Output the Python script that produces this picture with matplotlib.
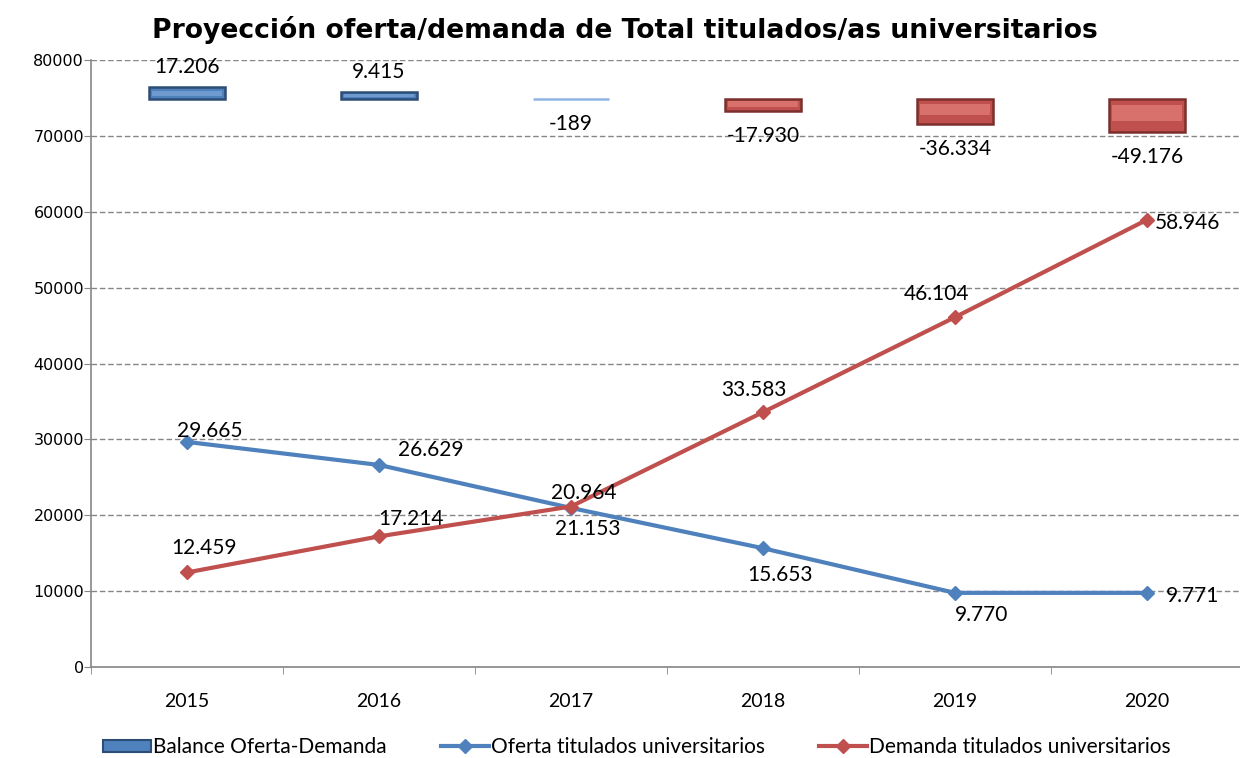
import numpy as np
import matplotlib.pyplot as plt
from matplotlib.lines import Line2D
from matplotlib.patches import Patch

# Datos
years = ['2015', '2016', '2017', '2018', '2019', '2020']
oferta = [29665, 26629, 20964, 15653, 9770, 9771]
demanda = [12459, 17214, 21153, 33583, 46104, 58946]
balance = [17206, 9415, -189, -17930, -36334, -49176]

# Colores
blue = '#4F81BD'
red = '#C0504D'
bar_face = [blue, blue, '#8EB4E3', red, red, red]
bar_edge = ['#2C4D75', '#2C4D75', '#8EB4E3', '#7A2F2D', '#7A2F2D', '#7A2F2D']
bar_light = ['#6F9AD0', '#6F9AD0', '#8EB4E3', '#D8706C', '#D8706C', '#D8706C']

# desplazamientos de etiquetas (pixeles)
off_oferta = [(23, 11), (52, 15), (13, 15), (17, -27), (27, -22), (46, -3)]
off_demanda = [(17, 24), (32, 17), (17, -22), (-9, 22), (-18, 23), (40, -3)]

label_font = 'Lato'


def fmt(v):
    return f'{v:,}'.replace(',', '.')


fig = plt.figure(figsize=(12.4, 7.58), dpi=100)
ax = fig.add_axes([91 / 1240, 1 - 667 / 758, 1152 / 1240, 607 / 758])
x = np.arange(len(years))

# Eje secundario para el balance (barras con efecto bisel)
ax2 = ax.twinx()
ax2.set_ylim(-823900, 55800)
ax2.bar(x, balance, width=0.4, color=bar_face, edgecolor=bar_edge, linewidth=1.8, zorder=2)
inner = [v * 0.45 for v in balance]
base = [v * 0.2 for v in balance]
ax2.bar(x, inner, bottom=base, width=0.36, color=bar_light, linewidth=0, zorder=2.5)
ax2.axis('off')
for i, v in enumerate(balance):
    dy = 20 if v > 0 else -25
    ax2.annotate(fmt(v), (x[i], v), xytext=(0, dy), textcoords='offset pixels',
                 ha='center', va='center', fontsize=15, family=label_font)

# Lineas de oferta y demanda
ax.plot(x, oferta, color=blue, lw=3, marker='D', markersize=7, zorder=3)
ax.plot(x, demanda, color=red, lw=3, marker='D', markersize=7, zorder=3)
for i in range(len(years)):
    ax.annotate(fmt(oferta[i]), (x[i], oferta[i]), xytext=off_oferta[i], textcoords='offset pixels',
                ha='center', va='center', fontsize=15, family=label_font, zorder=4)
    ax.annotate(fmt(demanda[i]), (x[i], demanda[i]), xytext=off_demanda[i], textcoords='offset pixels',
                ha='center', va='center', fontsize=15, family=label_font, zorder=4)

# Ejes
ax.set_xlim(-0.5, 5.5)
ax.set_ylim(0, 80000)
ax.set_yticks(np.arange(0, 80001, 10000))
ax.set_xticks(x)
ax.set_xticklabels(years, family=label_font, fontsize=14)
ax.set_xticks(np.arange(-0.5, 6, 1), minor=True)
ax.tick_params(axis='x', which='major', length=0, pad=19)
ax.tick_params(axis='x', which='minor', length=5, color='#868686', direction='out')
ax.tick_params(axis='y', length=5, color='#868686', labelsize=11.5, pad=0)
ax.grid(axis='y', color='#868686', linestyle=(0, (4, 2)), linewidth=1)
ax.set_axisbelow(True)
for s in ['top', 'right']:
    ax.spines[s].set_visible(False)
for s in ['left', 'bottom']:
    ax.spines[s].set_color('#868686')
    ax.spines[s].set_linewidth(1.2)

fig.text(625 / 1240, 1 - 30 / 758, 'Proyección oferta/demanda de Total titulados/as universitarios',
         ha='center', va='center', fontsize=19.2, fontweight='bold')

handles = [
    Patch(facecolor=blue, edgecolor='#2C4D75', linewidth=1.5),
    Line2D([0], [0], color=blue, lw=3, marker='D', markersize=7),
    Line2D([0], [0], color=red, lw=3, marker='D', markersize=7),
]
labels = ['Balance Oferta-Demanda', 'Oferta titulados universitarios', 'Demanda titulados universitarios']
fig.legend(handles, labels, loc='center', bbox_to_anchor=(637 / 1240, 1 - 747 / 758), ncol=3,
           frameon=False, prop={'family': label_font, 'size': 15}, handlelength=2.3,
           handleheight=0.5, handletextpad=0.1, columnspacing=2.6)

fig.savefig('out.png', dpi=100)
